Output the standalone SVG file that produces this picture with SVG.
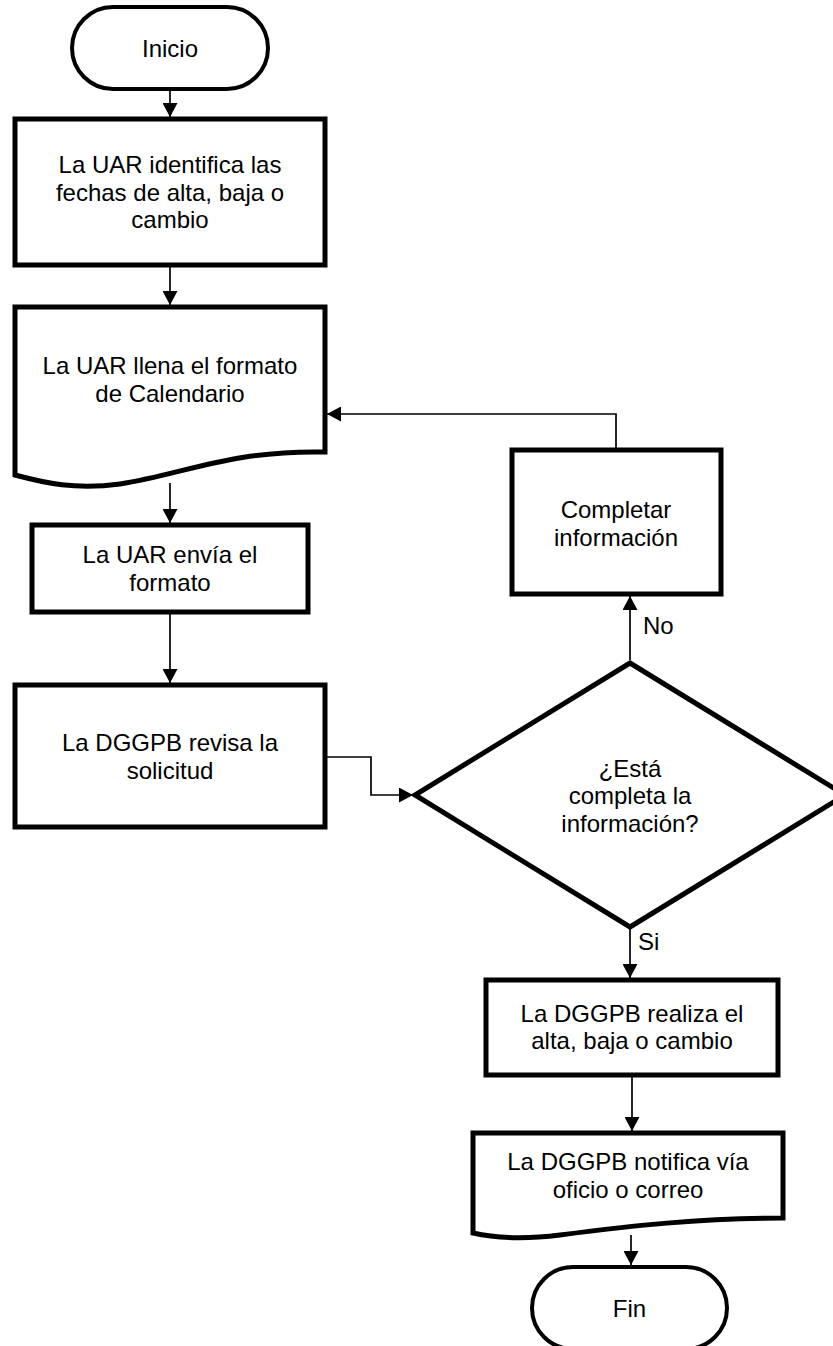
<svg xmlns="http://www.w3.org/2000/svg" width="833" height="1346" viewBox="0 0 833 1346">
<style>
.shape{fill:#fff;stroke:#000;stroke-width:5;stroke-linejoin:miter}
.term{fill:#fff;stroke:#000;stroke-width:4}
.lbl{font-family:"Liberation Sans",Arial,sans-serif;font-size:24px;fill:#000;text-anchor:middle}
.edge{font-family:"Liberation Sans",Arial,sans-serif;font-size:24px;fill:#000}
.conn{fill:none;stroke:#000;stroke-width:1.7}
</style>
<defs>
<marker id="arr" markerUnits="userSpaceOnUse" markerWidth="15" markerHeight="15" refX="14" refY="7.5" orient="auto">
<path d="M0,0 L14,7.5 L0,15 z" fill="#000"/>
</marker>
</defs>
<rect width="833" height="1346" fill="#fff"/>
<g id="connectors">
<path class="conn" marker-end="url(#arr)" d="M170,89 V117"/>
<path class="conn" marker-end="url(#arr)" d="M170,265 V305"/>
<path class="conn" marker-end="url(#arr)" d="M170,483 V523"/>
<path class="conn" marker-end="url(#arr)" d="M170,612 V683"/>
<path class="conn" marker-end="url(#arr)" d="M325,757 H371 V795 H413"/>
<path class="conn" marker-end="url(#arr)" d="M630,660 V596"/>
<path class="conn" marker-end="url(#arr)" d="M616,450 V414 H327"/>
<path class="conn" marker-end="url(#arr)" d="M630,927 V978"/>
<path class="conn" marker-end="url(#arr)" d="M632,1075 V1131"/>
<path class="conn" marker-end="url(#arr)" d="M631,1235 V1265"/>
<text class="edge" x="643" y="634">No</text>
<text class="edge" x="638" y="950">Si</text>
</g>
<g id="inicio">
<rect class="term" x="72" y="7" width="196" height="82" rx="41" ry="41"/>
<text class="lbl" x="170" y="57">Inicio</text>
</g>
<g id="identifica">
<rect class="shape" x="15" y="119" width="310" height="146"/>
<text class="lbl" x="170" y="173">La UAR identifica las</text>
<text class="lbl" x="170" y="200.5">fechas de alta, baja o</text>
<text class="lbl" x="170" y="228">cambio</text>
</g>
<g id="llena">
<path class="shape" d="M15,307 H325 V452 C230,450 185,474 120,484 C75,490 45,483 15,475 Z"/>
<text class="lbl" x="170" y="374">La UAR llena el formato</text>
<text class="lbl" x="170" y="402">de Calendario</text>
</g>
<g id="envia">
<rect class="shape" x="32" y="525" width="276" height="87"/>
<text class="lbl" x="170" y="563">La UAR envía el</text>
<text class="lbl" x="170" y="591">formato</text>
</g>
<g id="revisa">
<rect class="shape" x="15" y="685" width="310" height="142"/>
<text class="lbl" x="170" y="750.5">La DGGPB revisa la</text>
<text class="lbl" x="170" y="778.5">solicitud</text>
</g>
<g id="completar">
<rect class="shape" x="512" y="450" width="209" height="144"/>
<text class="lbl" x="616" y="518">Completar</text>
<text class="lbl" x="616" y="546">información</text>
</g>
<g id="decision">
<polygon class="shape" points="630,663 845,795 630,927 415,795"/>
<text class="lbl" x="630" y="776.5">¿Está</text>
<text class="lbl" x="630" y="804">completa la</text>
<text class="lbl" x="630" y="831.5">información?</text>
</g>
<g id="realiza">
<rect class="shape" x="486" y="980" width="292" height="95"/>
<text class="lbl" x="632" y="1022">La DGGPB realiza el</text>
<text class="lbl" x="632" y="1049">alta, baja o cambio</text>
</g>
<g id="notifica">
<path class="shape" d="M473,1133 H783 V1218 C700,1218 630,1226 560,1235 C520,1240 495,1238 473,1233 Z"/>
<text class="lbl" x="628" y="1170">La DGGPB notifica vía</text>
<text class="lbl" x="628" y="1198">oficio o correo</text>
</g>
<g id="fin">
<rect class="term" x="532" y="1267" width="195" height="82" rx="41" ry="41"/>
<text class="lbl" x="629.5" y="1317">Fin</text>
</g>
</svg>
